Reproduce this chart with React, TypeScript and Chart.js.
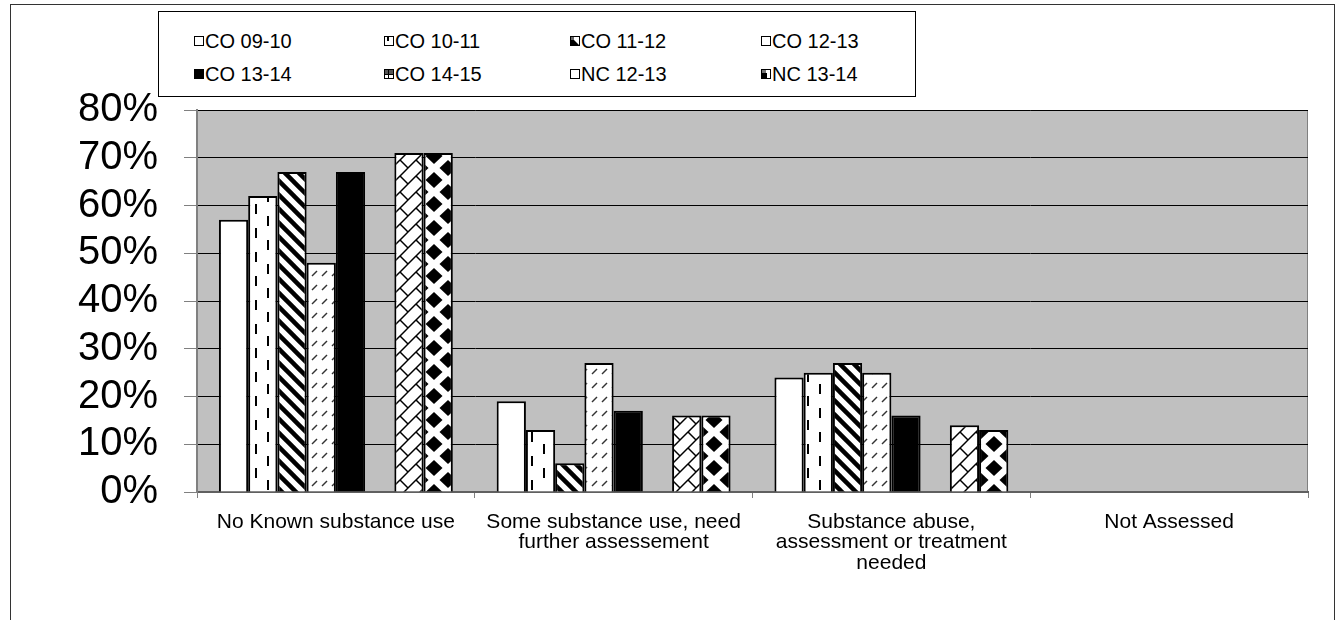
import React, { useEffect, useRef } from "react";
import { Chart, registerables } from "chart.js";

Chart.register(...registerables);

// ---------- data ----------
const categories: string[][] = [
  ["No Known substance use"],
  ["Some substance use, need", "further assessement"],
  ["Substance abuse,", "assessment or treatment", "needed"],
  ["Not Assessed"],
];
const seriesNames = ["CO 09-10", "CO 10-11", "CO 11-12", "CO 12-13", "CO 13-14", "CO 14-15", "NC 12-13", "NC 13-14"];
const co0910 = [57, 19, 24, 0];
const co1011 = [62, 13, 25, 0];
const co1112 = [67, 6, 27, 0];
const co1213 = [48, 27, 25, 0];
const co1314 = [67, 17, 16, 0];
const co1415: (number | null)[] = [null, null, null, null];
const nc1213 = [71, 16, 14, 0];
const nc1314 = [71, 16, 13, 0];
const yTicks = [0, 10, 20, 30, 40, 50, 60, 70, 80];

const FONT = "Arial, 'Liberation Sans', sans-serif";

// ---------- pattern tiles ----------
type Draw = (g: CanvasRenderingContext2D, w: number, h: number) => void;
function tile(w: number, h: number, draw: Draw, bg = "#fff"): HTMLCanvasElement {
  const c = document.createElement("canvas");
  c.width = w;
  c.height = h;
  const g = c.getContext("2d")!;
  g.fillStyle = bg;
  g.fillRect(0, 0, w, h);
  draw(g, w, h);
  return c;
}

function makeTiles(): HTMLCanvasElement[] {
  const plain = tile(8, 8, () => {});
  const dashV = tile(24, 24, (g) => {
    g.fillStyle = "#000";
    g.fillRect(3, 0, 2, 10);
    g.fillRect(15, 12, 2, 10);
  });
  const diag = tile(14, 14, (g) => {
    g.strokeStyle = "#000";
    g.lineWidth = 4.5;
    for (const k of [-14, 0, 14]) {
      g.beginPath();
      g.moveTo(-4, k - 4);
      g.lineTo(18, k + 18);
      g.stroke();
    }
  });
  const smallDash = tile(10, 14, (g) => {
    g.strokeStyle = "#333";
    g.lineWidth = 1.5;
    g.beginPath();
    g.moveTo(2, 10);
    g.lineTo(7, 5);
    g.stroke();
  });
  const solid = tile(8, 8, () => {}, "#000");
  const grid = tile(8, 8, (g) => {
    g.fillStyle = "#000";
    g.fillRect(0, 3, 8, 1);
    g.fillRect(3, 0, 1, 8);
  });
  const brick = tile(16, 16, (g) => {
    g.strokeStyle = "#000";
    g.lineWidth = 1.5;
    for (const k of [0, 16, 32]) {
      g.beginPath();
      g.moveTo(k + 2, -2);
      g.lineTo(-2, k + 2);
      g.stroke();
    }
    g.beginPath();
    g.moveTo(0, 0);
    g.lineTo(8, 8);
    g.stroke();
  });
  const diamonds = tile(28, 24, (g) => {
    g.fillStyle = "#000";
    const dia = (cx: number, cy: number) => {
      g.beginPath();
      g.moveTo(cx, cy - 8);
      g.lineTo(cx + 8.5, cy);
      g.lineTo(cx, cy + 8);
      g.lineTo(cx - 8.5, cy);
      g.closePath();
      g.fill();
    };
    dia(14, 12);
    dia(0, 0);
    dia(28, 0);
    dia(0, 24);
    dia(28, 24);
  });
  return [plain, dashV, diag, smallDash, solid, grid, brick, diamonds];
}

// small legend swatch renderers (10x10)
const swatchDraw: Draw[] = [
  () => {},
  (g) => {
    g.fillStyle = "#000";
    g.fillRect(3, 1, 2, 4);
  },
  (g) => {
    g.fillStyle = "#000";
    g.beginPath();
    g.moveTo(0, 0);
    g.lineTo(0, 10);
    g.lineTo(10, 10);
    g.closePath();
    g.fill();
    g.fillStyle = "#666";
    g.fillRect(0, 0, 4, 4);
  },
  () => {},
  (g) => {
    g.fillStyle = "#000";
    g.fillRect(0, 0, 10, 10);
  },
  (g) => {
    g.fillStyle = "#555";
    g.fillRect(0, 0, 10, 5);
    g.fillStyle = "#000";
    g.fillRect(0, 5, 10, 1);
    g.fillRect(4, 0, 1, 10);
  },
  () => {},
  (g) => {
    g.fillStyle = "#000";
    g.fillRect(0, 4, 6, 6);
    g.fillStyle = "#777";
    g.fillRect(0, 0, 5, 4);
  },
];

const seriesData = [co0910, co1011, co1112, co1213, co1314, co1415, nc1213, nc1314];

export default function App() {
  const canvasRef = useRef<HTMLCanvasElement | null>(null);
  const swatchRefs = useRef<(HTMLCanvasElement | null)[]>([]);

  useEffect(() => {
    const canvas = canvasRef.current!;
    const ctx = canvas.getContext("2d")!;
    const tiles = makeTiles();
    const patterns = tiles.map((t) => ctx.createPattern(t, "repeat")!);

    swatchRefs.current.forEach((sc, i) => {
      if (!sc) return;
      const g = sc.getContext("2d")!;
      g.fillStyle = "#fff";
      g.fillRect(0, 0, sc.width, sc.height);
      swatchDraw[i](g, sc.width, sc.height);
      g.strokeStyle = "#000";
      g.lineWidth = 1;
      g.strokeRect(0.5, 0.5, sc.width - 1, sc.height - 1);
    });

    const plotBg = {
      id: "plotBg",
      beforeDraw(chart: any) {
        const { ctx: c, chartArea: a } = chart;
        c.save();
        c.fillStyle = "#c0c0c0";
        c.fillRect(a.left, a.top, a.right - a.left, a.bottom - a.top);
        c.strokeStyle = "#808080";
        c.lineWidth = 1;
        c.strokeRect(a.left + 0.5, a.top + 0.5, a.right - a.left - 1, a.bottom - a.top);
        c.restore();
      },
    };

    const chart = new Chart(ctx, {
      type: "bar",
      data: {
        labels: categories,
        datasets: seriesNames.map((name, i) => ({
          label: name,
          data: seriesData[i],
          backgroundColor: patterns[i],
          borderColor: "#000",
          borderWidth: 2,
          categoryPercentage: 8 / 9.5,
          barPercentage: 1,
        })),
      },
      options: {
        responsive: false,
        animation: false,
        events: [],
        layout: { padding: { top: 110, right: 27, left: 0, bottom: 0 } },
        plugins: {
          legend: { display: false },
          tooltip: { enabled: false },
          title: { display: false },
        },
        scales: {
          x: {
            offset: true,
            grid: {
              offset: true,
              drawOnChartArea: false,
              drawTicks: true,
              tickLength: 6,
              tickColor: "#808080",
              tickWidth: 1,
            },
            border: { color: "#606060", width: 2 },
            ticks: {
              font: { family: FONT, size: 21, lineHeight: 0.97 },
              color: "#000",
              padding: 14,
              maxRotation: 0,
              autoSkip: false,
            },
            afterFit: (s: any) => {
              s.height = 128;
            },
          },
          y: {
            min: 0,
            max: 80,
            afterBuildTicks: (s: any) => {
              s.ticks = yTicks.map((v) => ({ value: v }));
            },
            grid: {
              color: "#000",
              lineWidth: 1,
              tickColor: "#808080",
              tickLength: 13,
            },
            border: { color: "#808080", width: 2 },
            ticks: {
              font: { family: FONT, size: 40 },
              color: "#000",
              padding: 26,
              autoSkip: false,
              callback: (v: any) => `${v}%`,
            },
            afterFit: (s: any) => {
              s.width = 197;
            },
          },
        },
      },
      plugins: [plotBg],
    });

    return () => chart.destroy();
  }, []);

  const colX = [35, 225, 411, 602];
  const rowY = [17, 50];

  return (
    <div
      style={{
        position: "absolute",
        left: 0,
        top: 0,
        width: 1335,
        height: 620,
        overflow: "hidden",
        background: "#fff",
      }}
    >
      <canvas ref={canvasRef} width={1335} height={620} style={{ display: "block" }} />
      <div
        style={{
          position: "absolute",
          left: 10,
          top: 4,
          width: 1323,
          height: 700,
          border: "1px solid #333",
          pointerEvents: "none",
        }}
      />
      <div
        style={{
          position: "absolute",
          left: 158,
          top: 11,
          width: 758,
          height: 86,
          boxSizing: "border-box",
          border: "1px solid #000",
          background: "#fff",
          fontFamily: FONT,
          fontSize: 20,
          color: "#000",
        }}
      >
        {seriesNames.map((name, i) => (
          <div
            key={name}
            style={{
              position: "absolute",
              left: colX[i % 4],
              top: rowY[Math.floor(i / 4)],
              height: 24,
              lineHeight: "24px",
              whiteSpace: "nowrap",
              display: "flex",
              alignItems: "center",
            }}
          >
            <canvas
              ref={(el) => {
                swatchRefs.current[i] = el;
              }}
              width={10}
              height={10}
              style={{ display: "block", marginRight: 1 }}
            />
            <span>{name}</span>
          </div>
        ))}
      </div>
    </div>
  );
}
